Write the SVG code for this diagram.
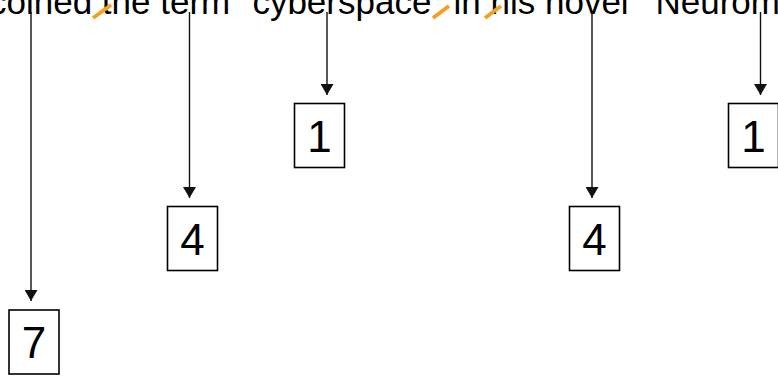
<svg xmlns="http://www.w3.org/2000/svg" width="778" height="379" viewBox="0 0 778 379">
<style>
.sent{font-family:"Liberation Sans",Arial,sans-serif;font-size:35px;fill:#000}
.box{fill:#fff;stroke:#000;stroke-width:1.6}
.num{font-family:"Liberation Sans",Arial,sans-serif;font-size:44px;fill:#000;text-anchor:middle}
.arr{stroke:#111;stroke-width:1.4;fill:none;marker-end:url(#ah)}
.cut{stroke:#F4A024;stroke-width:4;stroke-linecap:butt}
</style>
<defs>
<marker id="ah" markerUnits="userSpaceOnUse" markerWidth="11" markerHeight="13" refX="11" refY="6.5" orient="auto">
<path d="M0,0 L11,6.5 L0,13 z" fill="#111"/>
</marker>
</defs>
<rect width="778" height="379" fill="#fff"/>
<g id="sentence">
<text class="sent" y="14" xml:space="preserve"><tspan x="-11">coined the term "cyberspace" in his novel</tspan><tspan x="643">"Neuromancer"</tspan></text>
</g>
<g id="boundaries">
<line class="cut" x1="93" y1="18" x2="111" y2="5"/>
<line class="cut" x1="433" y1="18" x2="449" y2="6"/>
<line class="cut" x1="485" y1="18" x2="501" y2="6"/>
</g>
<g id="connectors">
<line class="arr" x1="31" y1="12" x2="31" y2="301"/>
<line class="arr" x1="189.5" y1="12" x2="189.5" y2="198"/>
<line class="arr" x1="327" y1="12" x2="327" y2="95"/>
<line class="arr" x1="592" y1="12" x2="592" y2="198"/>
<line class="arr" x1="760.5" y1="12" x2="760.5" y2="95"/>
</g>
<g id="n7">
<rect class="box" x="9" y="310" width="50" height="64"/>
<text class="num" x="34" y="358">7</text>
</g>
<g id="n4a">
<rect class="box" x="167.5" y="206.5" width="50" height="64"/>
<text class="num" x="192.5" y="254.5">4</text>
</g>
<g id="n1a">
<rect class="box" x="294.5" y="103.5" width="50" height="64"/>
<text class="num" x="319.5" y="151.5">1</text>
</g>
<g id="n4b">
<rect class="box" x="569.5" y="206.5" width="50" height="64"/>
<text class="num" x="594.5" y="254.5">4</text>
</g>
<g id="n1b">
<rect class="box" x="728.5" y="103.5" width="50" height="64"/>
<text class="num" x="753.5" y="151.5">1</text>
</g>
</svg>
